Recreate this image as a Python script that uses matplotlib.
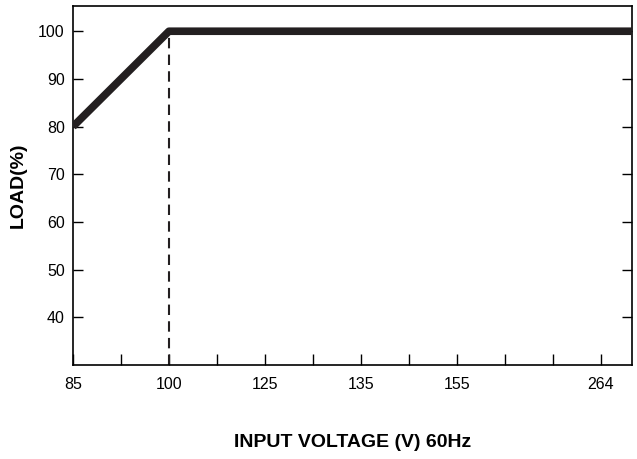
import matplotlib
matplotlib.use("Agg")
import matplotlib.pyplot as plt

plt.rcParams['font.family'] = ['Liberation Sans Narrow', 'Liberation Sans', 'DejaVu Sans']

x_labels = ["85", "100", "125", "135", "155", "264"]
x_label_pos = [0, 2, 4, 6, 8, 11]
curve_x = [0, 2, 11.65]
curve_y = [80, 100, 100]
y_ticks = [40, 50, 60, 70, 80, 90, 100]

fig = plt.figure(figsize=(6.37, 4.59), dpi=100)
ax = fig.add_axes([0.1146, 0.205, 0.8774, 0.782])
ax.plot(curve_x, curve_y, color='#231f20', lw=5.5, solid_capstyle='butt', zorder=3)
ax.plot([2, 2], [30, 100], color='#231f20', lw=1.5, ls=(0, (5, 3)))
ax.set_xlim(0, 11.65)
ax.set_ylim(30, 105.3)
ax.set_xticks(range(0, 12), minor=True)
ax.set_xticks(x_label_pos)
ax.set_xticklabels(x_labels)
ax.set_yticks(y_ticks)
ax.tick_params(axis='x', which='both', direction='in', length=8, width=1, labelsize=11.5, pad=9)
ax.tick_params(axis='y', direction='in', length=7, width=1, labelsize=11.5, right=True, pad=6)
for s in ax.spines.values():
    s.set_linewidth(1.2)
ax.set_xlabel("INPUT VOLTAGE (V) 60Hz", fontsize=14, fontweight='bold', labelpad=30)
ax.set_ylabel("LOAD(%)", fontsize=14, fontweight='bold', labelpad=8)
fig.savefig("out.png", dpi=100)
